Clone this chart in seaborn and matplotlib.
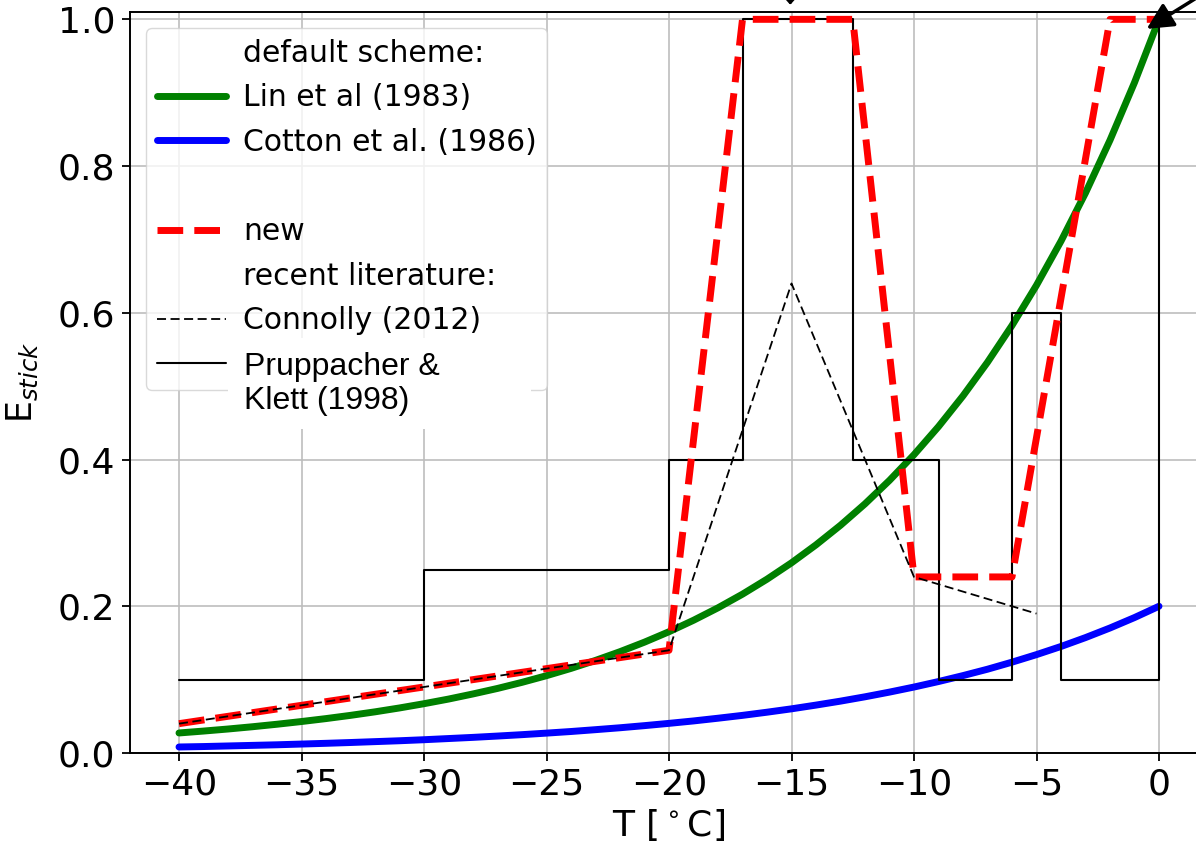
import numpy as np
import pandas as pd
import matplotlib
matplotlib.use("Agg")
import matplotlib.pyplot as plt
import seaborn as sns
from matplotlib.lines import Line2D
from matplotlib.patches import Rectangle

# ---------------- data ----------------
T_curve = list(range(-40, 1))
lin_1983 = [0.0273, 0.0299, 0.0327, 0.0358, 0.0392, 0.0429, 0.0469, 0.0513, 0.0561, 0.0614,
            0.0672, 0.0735, 0.0805, 0.0880, 0.0963, 0.1054, 0.1153, 0.1262, 0.1381, 0.1511,
            0.1653, 0.1809, 0.1979, 0.2165, 0.2369, 0.2592, 0.2837, 0.3104, 0.3396, 0.3716,
            0.4066, 0.4449, 0.4868, 0.5326, 0.5827, 0.6376, 0.6977, 0.7634, 0.8353, 0.9139,
            1.0000]
cotton_1986 = [0.0082, 0.0088, 0.0096, 0.0104, 0.0112, 0.0122, 0.0132, 0.0143, 0.0155, 0.0167,
               0.0181, 0.0197, 0.0213, 0.0231, 0.0250, 0.0271, 0.0293, 0.0318, 0.0344, 0.0373,
               0.0404, 0.0437, 0.0474, 0.0513, 0.0556, 0.0602, 0.0653, 0.0707, 0.0766, 0.0830,
               0.0899, 0.0974, 0.1055, 0.1142, 0.1238, 0.1341, 0.1452, 0.1573, 0.1704, 0.1846,
               0.2000]

T_new = [-40, -20, -17, -12.5, -10, -6, -2, 0]
E_new = [0.04, 0.14, 1.0, 1.0, 0.24, 0.24, 1.0, 1.0]

T_connolly = [-40, -20, -15, -10, -5]
E_connolly = [0.04, 0.14, 0.64, 0.24, 0.19]

T_pk = [-40, -30, -30, -20, -20, -17, -17, -12.5, -12.5, -9, -9, -6, -6, -4, -4, 0, 0]
E_pk = [0.1, 0.1, 0.25, 0.25, 0.4, 0.4, 1.0, 1.0, 0.4, 0.4, 0.1, 0.1, 0.6, 0.6, 0.1, 0.1, 1.0]

x_ticks = [-40, -35, -30, -25, -20, -15, -10, -5, 0]
y_ticks = [0.0, 0.2, 0.4, 0.6, 0.8, 1.0]

legend_labels = ["default scheme:", "Lin et al (1983)", "Cotton et al. (1986)", "",
                 "new", "recent literature:", "Connolly (2012)", ""]
pk_text = "Pruppacher &\nKlett (1998)"

# ---------------- style ----------------
sns.set_style("ticks", rc={"text.color": "black", "axes.labelcolor": "black",
                           "xtick.color": "black", "ytick.color": "black"})
plt.rcParams["font.family"] = ["DejaVu Sans"]
plt.rcParams["mathtext.fontset"] = "dejavusans"

W, H = 1196, 846
fig = plt.figure(figsize=(W / 100, H / 100), dpi=100)
ax_left, ax_right, ax_top, ax_bottom = 130, 1208, 12, 753
ax = fig.add_axes([ax_left / W, (H - ax_bottom) / H, (ax_right - ax_left) / W, (ax_bottom - ax_top) / H])

df_curve = pd.DataFrame({"T": T_curve, "lin": lin_1983, "cotton": cotton_1986})

sns.lineplot(data=df_curve, x="T", y="lin", color="green", lw=5, ax=ax, estimator=None)
sns.lineplot(data=df_curve, x="T", y="cotton", color="blue", lw=5, ax=ax, estimator=None)
sns.lineplot(x=T_pk, y=E_pk, color="black", lw=1.5, ax=ax, estimator=None, sort=False)
sns.lineplot(x=T_new, y=E_new, color="red", lw=5, ax=ax, estimator=None, sort=False,
             linestyle="--")
sns.lineplot(x=T_connolly, y=E_connolly, color="black", lw=1.3, ax=ax, estimator=None,
             sort=False, linestyle=(0, (5, 2.5)))

ax.set_xlim(-42, 2)
ax.set_ylim(0, 1.01)
ax.set_xticks(x_ticks)
ax.set_yticks(y_ticks)
ax.set_yticklabels([f"{v:.1f}" for v in y_ticks])
ax.tick_params(labelsize=26, length=6, width=1.3, pad=4.5, color="black", labelcolor="black")
ax.grid(True, color="#bdbdbd", lw=1.2)
for s in ax.spines.values():
    s.set_linewidth(1.4)
    s.set_color("black")
ax.set_xlabel(r"T [$^\circ$C]", fontsize=26, labelpad=4)
ax.set_ylabel(r"E$_{stick}$", fontsize=25, labelpad=13)

# legend
blank = Line2D([], [], color="none")
handles = [blank,
           Line2D([], [], color="green", lw=5),
           Line2D([], [], color="blue", lw=5),
           blank,
           Line2D([], [], color="red", lw=5, ls="--"),
           blank,
           Line2D([], [], color="black", lw=1.3, ls=(0, (5, 2.5))),
           Line2D([], [], color="black", lw=1.5)]
leg = ax.legend(handles, legend_labels, loc="upper left", fontsize=21.5, labelspacing=0.52,
                handlelength=2.3, handletextpad=0.58, borderpad=0.35, borderaxespad=0.55,
                framealpha=0.8, edgecolor="#d0d0d0", fancybox=True)

# white patch with Pruppacher & Klett label
ax.add_patch(Rectangle((0.091, 0.437), 0.281, 0.123, transform=ax.transAxes,
                       facecolor="white", edgecolor="none", zorder=6))
ax.text(-37.35, 0.547, pk_text, fontsize=23, family=["Liberation Sans"], va="top",
        ha="left", linespacing=1.2, zorder=7, color="black")

# hand-drawn arrows (partly outside)
ax.annotate("", xy=(-15.05, 1.016), xytext=(-15.05, 1.2),
            arrowprops=dict(arrowstyle="-|>,head_length=0.45,head_width=0.4", color="black",
                            lw=2, mutation_scale=20),
            annotation_clip=False)
ax.annotate("", xy=(-0.6, 0.985), xytext=(3.5, 1.07),
            arrowprops=dict(arrowstyle="-|>", color="black", lw=2.5, mutation_scale=40),
            annotation_clip=False)

fig.savefig("out.png", dpi=100)
